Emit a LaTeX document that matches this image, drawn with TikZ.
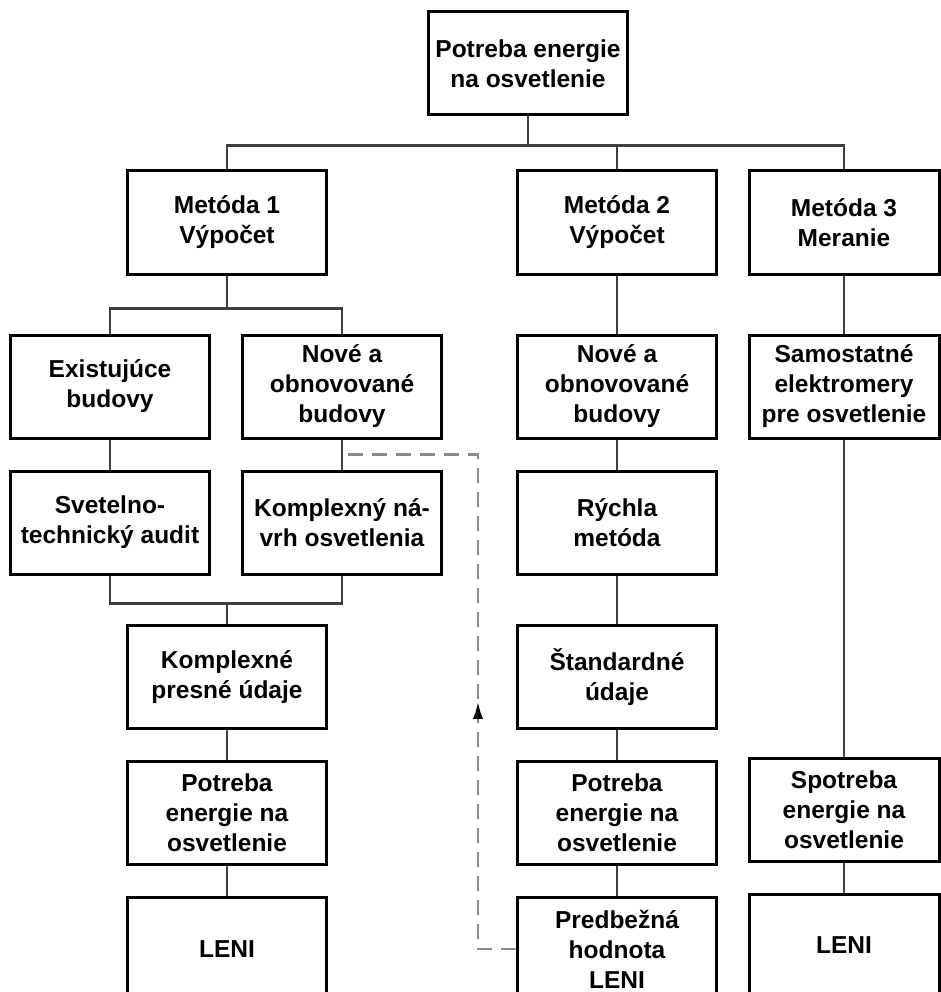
\documentclass[tikz,border=0pt]{standalone}
\usepackage{fontspec}
\setmainfont{Liberation Sans}
\usetikzlibrary{positioning,calc,arrows.meta}

\begin{document}
\begin{tikzpicture}[x=1pt,y=1pt,node distance=30pt,
  main node/.style={rectangle,draw,line width=3pt,fill=white,minimum width=199pt,minimum height=103pt,
    inner sep=0pt,align=center,font=\bfseries\fontsize{24.5}{30}\selectfont},
  narrow node/.style={main node,minimum width=190pt},
  conn/.style={draw=black!75,line width=2.2pt},
  dash line/.style={draw=black!45,line width=2.2pt,dash pattern=on 15pt off 9pt}]
  \useasboundingbox (0,0) rectangle (941,-992);
  \node[main node] (top) at (528,-63.5) {Potreba energie\\na osvetlenie};
  \node[main node] (m1) at (227,-222.5) {Metóda 1\\Výpočet};
  \node[main node] (m2) at (617,-222.5) {Metóda 2\\Výpočet};
  \node[narrow node] (m3) at (844,-222.5) {Metóda 3\\Meranie};
  % metoda 1
  \node[main node] (exist) at (110,-386.5) {Existujúce\\budovy};
  \node[main node] (nove1) at (342,-386.5) {Nové a\\obnovované\\budovy};
  \node[main node] (svet) [below=of exist] {Svetelno-\\technický audit};
  \node[main node] (navrh) [below=of nove1] {Komplexný ná-\\vrh osvetlenia};
  \node[main node] (kompl) at (227,-677) {Komplexné\\presné údaje};
  \node[main node] (pot1) [below=of kompl] {Potreba\\energie na\\osvetlenie};
  \node[main node] (leni1) [below=of pot1] {LENI};
  % metoda 2
  \node[main node] (nove2) at (617,-386.5) {Nové a\\obnovované\\budovy};
  \node[main node] (rych) [below=of nove2] {Rýchla\\metóda};
  \node[main node] (stand) at (617,-677) {Štandardné\\údaje};
  \node[main node] (pot2) [below=of stand] {Potreba\\energie na\\osvetlenie};
  \node[main node] (pred) [below=of pot2] {Predbežná\\hodnota\\LENI};
  % metoda 3
  \node[narrow node] (samo) at (844,-386.5) {Samostatné\\elektromery\\pre osvetlenie};
  \node[narrow node] (spot) at (844,-809.5) {Spotreba\\energie na\\osvetlenie};
  \node[narrow node] (leni3) [below=of spot] {LENI};

  \draw[conn] (top.south) -- ++(0,-29) coordinate (bus);
  \draw[conn] (m1.north) |- (bus) -| (m3.north);
  \draw[conn] (m2.north) -- (m2.north |- bus);
  \draw[conn] (m1.south) -- ++(0,-33) coordinate (fork);
  \draw[conn] (exist.north) |- (fork) -| (nove1.north);
  \draw[conn] (exist) -- (svet);
  \draw[conn] (nove1) -- (navrh);
  \draw[conn] (svet.south) -- ++(0,-28) coordinate (join) -| (navrh.south);
  \draw[conn] (kompl.north) -- (kompl.north |- join);
  \draw[conn] (kompl) -- (pot1) -- (leni1);
  \draw[conn] (m2) -- (nove2) -- (rych) -- (stand) -- (pot2) -- (pred);
  \draw[conn] (m3) -- (samo) -- (spot) -- (leni3);

  % dashed feedback
  \coordinate (dbot) at ($(pred.west)+(-38,0)$);
  \coordinate (dtop) at ($(nove1.south)!0.5!(navrh.north)$);
  \draw[dash line] (pred.west) -- (dbot) |- (dtop);
  \draw[dash line,-{Latex[length=17pt,width=10pt,color=black]}] (pred.west) -- (dbot) -- ($(dbot)!0.5!(dbot |- dtop)$);
\end{tikzpicture}
\end{document}
